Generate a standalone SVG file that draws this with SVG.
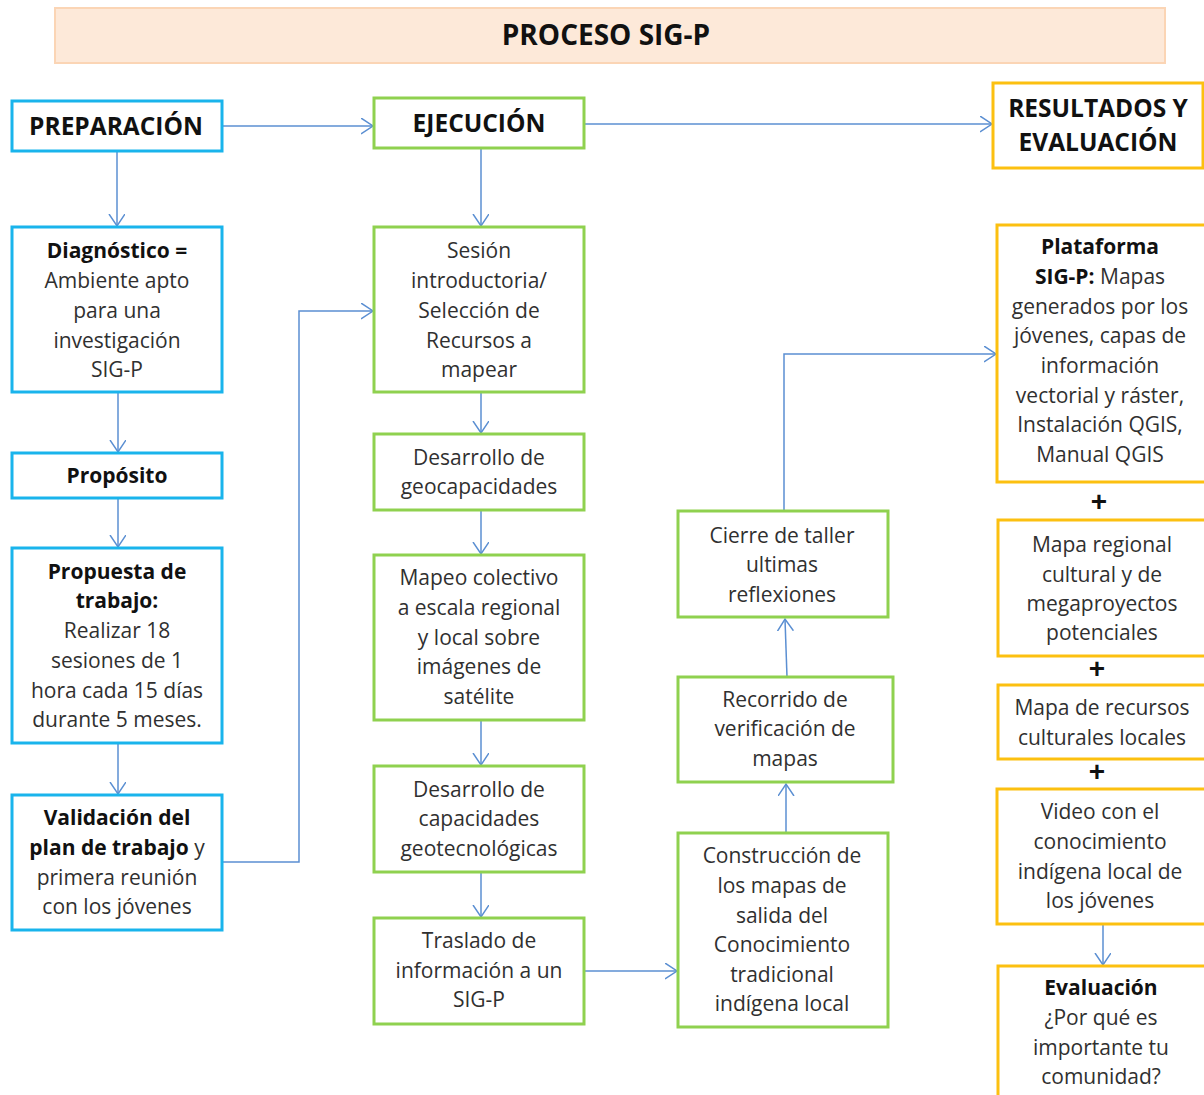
<svg xmlns="http://www.w3.org/2000/svg" width="1204" height="1095" viewBox="0 0 1204 1095">
<style>
.t{font-family:"Open Sans","Noto Sans","Liberation Sans",sans-serif;font-size:21px;fill:#303030;text-anchor:middle}
.b{font-weight:bold;fill:#111}
.h{font-family:"Open Sans","Noto Sans","Liberation Sans",sans-serif;font-size:24.5px;font-weight:bold;fill:#111;text-anchor:middle}
.p{fill:#fff;stroke:#19b4ec;stroke-width:3}
.e{fill:#fff;stroke:#8fd14f;stroke-width:3}
.r{fill:#fff;stroke:#fcc010;stroke-width:3}
.c{fill:none;stroke:#5b8fd2;stroke-width:1.5}
.plus{font-family:"Liberation Sans",sans-serif;font-size:28px;font-weight:bold;fill:#111;text-anchor:middle}
</style>
<defs>
<marker id="a" markerUnits="userSpaceOnUse" markerWidth="20" markerHeight="20" refX="12" refY="8" orient="auto">
<path d="M0,0 L12,8 L0,16" fill="none" stroke="#5b8fd2" stroke-width="1.5"/>
</marker>
</defs>
<rect width="1204" height="1095" fill="#fff"/>
<g id="title">
<rect x="55" y="8" width="1110" height="55" fill="#fde9d9" stroke="#fbd5b5" stroke-width="2"/>
<text class="h" x="606" y="45" style="font-size:28px">PROCESO SIG-P</text>
</g>
<g id="connectors">
<line class="c" x1="222" y1="126" x2="373" y2="126" marker-end="url(#a)"/>
<line class="c" x1="584" y1="124" x2="992" y2="124" marker-end="url(#a)"/>
<line class="c" x1="117" y1="151" x2="117" y2="226" marker-end="url(#a)"/>
<line class="c" x1="118" y1="392" x2="118" y2="452" marker-end="url(#a)"/>
<line class="c" x1="118" y1="498" x2="118" y2="547" marker-end="url(#a)"/>
<line class="c" x1="118" y1="743" x2="118" y2="794" marker-end="url(#a)"/>
<polyline class="c" points="222,862 299,862 299,311 373,311" marker-end="url(#a)"/>
<line class="c" x1="481" y1="148" x2="481" y2="226" marker-end="url(#a)"/>
<line class="c" x1="481" y1="392" x2="481" y2="433" marker-end="url(#a)"/>
<line class="c" x1="481" y1="510" x2="481" y2="554" marker-end="url(#a)"/>
<line class="c" x1="481" y1="720" x2="481" y2="765" marker-end="url(#a)"/>
<line class="c" x1="481" y1="872" x2="481" y2="917" marker-end="url(#a)"/>
<line class="c" x1="584" y1="971" x2="677" y2="971" marker-end="url(#a)"/>
<line class="c" x1="786" y1="833" x2="786" y2="784" marker-end="url(#a)"/>
<line class="c" x1="787" y1="677" x2="785" y2="619" marker-end="url(#a)"/>
<polyline class="c" points="784,511 784,354 996,354" marker-end="url(#a)"/>
<line class="c" x1="1103" y1="924" x2="1103" y2="965" marker-end="url(#a)"/>
</g>
<g id="preparacion">
<rect class="p" x="12" y="101" width="210" height="50"/>
<text class="h" x="116" y="135">PREPARACIÓN</text>
</g>
<g id="ejecucion">
<rect class="e" x="374" y="98" width="210" height="50"/>
<text class="h" x="479" y="132">EJECUCIÓN</text>
</g>
<g id="resultados">
<rect class="r" x="993" y="83" width="210" height="85"/>
<text class="h" x="1098" y="117">RESULTADOS Y</text>
<text class="h" x="1098" y="151">EVALUACIÓN</text>
</g>
<g id="diagnostico">
<rect class="p" x="12" y="227" width="210" height="165"/>
<text class="t b" x="117" y="258">Diagnóstico =</text>
<text class="t" x="117" y="288">Ambiente apto</text>
<text class="t" x="117" y="318">para una</text>
<text class="t" x="117" y="348">investigación</text>
<text class="t" x="117" y="377">SIG-P</text>
</g>
<g id="proposito">
<rect class="p" x="12" y="453" width="210" height="45"/>
<text class="t b" x="117" y="483">Propósito</text>
</g>
<g id="propuesta">
<rect class="p" x="12" y="548" width="210" height="195"/>
<text class="t b" x="117" y="579">Propuesta de</text>
<text class="t b" x="117" y="608">trabajo:</text>
<text class="t" x="117" y="638">Realizar 18</text>
<text class="t" x="117" y="668">sesiones de 1</text>
<text class="t" x="117" y="698">hora cada 15 días</text>
<text class="t" x="117" y="727">durante 5 meses.</text>
</g>
<g id="validacion">
<rect class="p" x="12" y="795" width="210" height="135"/>
<text class="t b" x="117" y="825">Validación  del</text>
<text class="t" x="117" y="855"><tspan class="b">plan de trabajo</tspan> y</text>
<text class="t" x="117" y="885">primera reunión</text>
<text class="t" x="117" y="914">con los jóvenes</text>
</g>
<g id="sesion">
<rect class="e" x="374" y="227" width="210" height="165"/>
<text class="t" x="479" y="258">Sesión</text>
<text class="t" x="479" y="288">introductoria/</text>
<text class="t" x="479" y="318">Selección de</text>
<text class="t" x="479" y="348">Recursos a</text>
<text class="t" x="479" y="377">mapear</text>
</g>
<g id="geocapacidades">
<rect class="e" x="374" y="434" width="210" height="76"/>
<text class="t" x="479" y="465">Desarrollo de</text>
<text class="t" x="479" y="494">geocapacidades</text>
</g>
<g id="mapeo">
<rect class="e" x="374" y="555" width="210" height="165"/>
<text class="t" x="479" y="585">Mapeo colectivo</text>
<text class="t" x="479" y="615">a escala regional</text>
<text class="t" x="479" y="645">y local sobre</text>
<text class="t" x="479" y="674">imágenes de</text>
<text class="t" x="479" y="704">satélite</text>
</g>
<g id="geotecnologicas">
<rect class="e" x="374" y="766" width="210" height="106"/>
<text class="t" x="479" y="797">Desarrollo de</text>
<text class="t" x="479" y="826">capacidades</text>
<text class="t" x="479" y="856">geotecnológicas</text>
</g>
<g id="traslado">
<rect class="e" x="374" y="918" width="210" height="106"/>
<text class="t" x="479" y="948">Traslado de</text>
<text class="t" x="479" y="978">información a un</text>
<text class="t" x="479" y="1007">SIG-P</text>
</g>
<g id="construccion">
<rect class="e" x="678" y="833" width="210" height="194"/>
<text class="t" x="782" y="863">Construcción de</text>
<text class="t" x="782" y="893">los mapas de</text>
<text class="t" x="782" y="923">salida del</text>
<text class="t" x="782" y="952">Conocimiento</text>
<text class="t" x="782" y="982">tradicional</text>
<text class="t" x="782" y="1011">indígena local</text>
</g>
<g id="recorrido">
<rect class="e" x="678" y="677" width="215" height="105"/>
<text class="t" x="785" y="707">Recorrido de</text>
<text class="t" x="785" y="736">verificación de</text>
<text class="t" x="785" y="766">mapas</text>
</g>
<g id="cierre">
<rect class="e" x="678" y="511" width="210" height="106"/>
<text class="t" x="782" y="543">Cierre de taller</text>
<text class="t" x="782" y="572">ultimas</text>
<text class="t" x="782" y="602">reflexiones</text>
</g>
<g id="plataforma">
<rect class="r" x="997" y="225" width="212" height="257"/>
<text class="t b" x="1100" y="254">Plataforma</text>
<text class="t" x="1100" y="284"><tspan class="b">SIG-P:</tspan> Mapas</text>
<text class="t" x="1100" y="314">generados por los</text>
<text class="t" x="1100" y="343">jóvenes, capas de</text>
<text class="t" x="1100" y="373">información</text>
<text class="t" x="1100" y="403">vectorial y ráster,</text>
<text class="t" x="1100" y="432">Instalación QGIS,</text>
<text class="t" x="1100" y="462">Manual QGIS</text>
</g>
<text class="plus" x="1099" y="511">+</text>
<g id="mapa-regional">
<rect class="r" x="998" y="520" width="212" height="136"/>
<text class="t" x="1102" y="552">Mapa regional</text>
<text class="t" x="1102" y="582">cultural y de</text>
<text class="t" x="1102" y="611">megaproyectos</text>
<text class="t" x="1102" y="640">potenciales</text>
</g>
<text class="plus" x="1097" y="678">+</text>
<g id="mapa-recursos">
<rect class="r" x="998" y="685" width="212" height="74"/>
<text class="t" x="1102" y="715">Mapa de recursos</text>
<text class="t" x="1102" y="745">culturales locales</text>
</g>
<text class="plus" x="1097" y="781">+</text>
<g id="video">
<rect class="r" x="997" y="789" width="212" height="135"/>
<text class="t" x="1100" y="819">Video con el</text>
<text class="t" x="1100" y="849">conocimiento</text>
<text class="t" x="1100" y="879">indígena local de</text>
<text class="t" x="1100" y="908">los jóvenes</text>
</g>
<g id="evaluacion">
<rect class="r" x="998" y="966" width="212" height="140"/>
<text class="t b" x="1101" y="995">Evaluación</text>
<text class="t" x="1101" y="1025">¿Por qué es</text>
<text class="t" x="1101" y="1055">importante tu</text>
<text class="t" x="1101" y="1084">comunidad?</text>
</g>
</svg>
